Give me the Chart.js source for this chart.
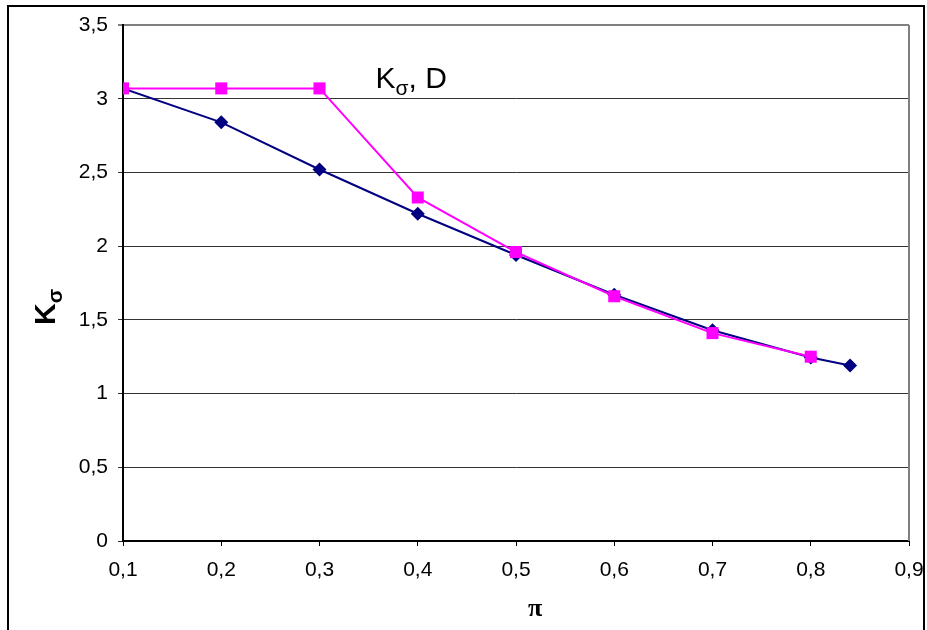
<!DOCTYPE html>
<html>
<head>
<meta charset="utf-8">
<script src="https://cdn.jsdelivr.net/npm/chart.js@4"></script>
<style>
  body { margin: 0; background: #fff; }
  canvas { display: block; }
</style>
</head>
<body>
<canvas id="myChart" width="927" height="630"></canvas>
<script>
// values
const piBlue = [0.1, 0.2, 0.3, 0.4, 0.5, 0.6, 0.7, 0.8, 0.84];
const kBlue = [3.07, 2.84, 2.52, 2.22, 1.94, 1.67, 1.43, 1.245, 1.19];
const piPink = [0.1, 0.2, 0.3, 0.4, 0.5, 0.6, 0.7, 0.8];
const kPink = [3.07, 3.07, 3.07, 2.33, 1.96, 1.66, 1.41, 1.25];
const xTicks = [0.1, 0.2, 0.3, 0.4, 0.5, 0.6, 0.7, 0.8, 0.9];
const yTicks = [0, 0.5, 1, 1.5, 2, 2.5, 3, 3.5];
const labelAt = { x: 0.357, y: 3.07 }; // where "Kσ, D" sits

const toComma = v => String(Math.round(v * 10) / 10).replace('.', ',');

const extras = {
    id: 'extras',
    beforeDraw(chart) {
        const c = chart.ctx;
        c.save();
        c.fillStyle = '#fff';
        c.fillRect(0, 0, chart.width, chart.height);
        // outer frame
        c.strokeStyle = '#000';
        c.lineWidth = 2;
        c.beginPath();
        c.moveTo(8, 630);
        c.lineTo(8, 6);
        c.lineTo(924, 6);
        c.lineTo(924, 630);
        c.stroke();
        c.restore();
    },
    afterDatasetsDraw(chart) {
        const c = chart.ctx;
        const a = chart.chartArea;
        c.save();
        // grey right edge of plot
        c.strokeStyle = '#808080';
        c.lineWidth = 2;
        c.beginPath();
        c.moveTo(a.right, a.top);
        c.lineTo(a.right, a.bottom);
        c.stroke();

        c.fillStyle = '#000';
        c.textBaseline = 'alphabetic';
        c.textAlign = 'left';

        // label inside the plot
        const lx = chart.scales.x.getPixelForValue(labelAt.x);
        const ly = chart.scales.y.getPixelForValue(labelAt.y);
        c.font = '30px "Liberation Sans", Arial, sans-serif';
        c.fillText('K', lx, ly);
        let w = c.measureText('K').width;
        c.font = '21px "Liberation Sans", Arial, sans-serif';
        c.fillText('σ', lx + w, ly + 7);
        w += c.measureText('σ').width;
        c.font = '30px "Liberation Sans", Arial, sans-serif';
        c.fillText(', D', lx + w, ly);

        // y axis title, rotated
        c.save();
        c.translate(55, 325);
        c.rotate(-Math.PI / 2);
        c.font = 'bold 30px "Liberation Sans", Arial, sans-serif';
        c.fillText('K', 0, 0);
        const kw = c.measureText('K').width;
        c.font = 'bold 21px "Liberation Sans", Arial, sans-serif';
        c.fillText('σ', kw, 7);
        c.restore();

        // x axis title
        c.font = 'bold 26px "Liberation Serif", "Times New Roman", serif';
        c.textAlign = 'center';
        c.textBaseline = 'middle';
        c.fillText('π', 535, 609);
        c.restore();
    }
};

const ctx = document.getElementById('myChart').getContext('2d');
const chart = new Chart(ctx, {
    type: 'line',
    data: {
        datasets: [{
            label: 'D',
            data: piPink.map((x, i) => ({ x: x, y: kPink[i] })),
            borderColor: '#FF00FF',
            backgroundColor: '#FF00FF',
            borderWidth: 2,
            pointStyle: 'rect',
            pointRadius: 8.5,
            pointBorderWidth: 0,
            tension: 0,
        }, {
            label: 'K',
            data: piBlue.map((x, i) => ({ x: x, y: kBlue[i] })),
            borderColor: '#000080',
            backgroundColor: '#000080',
            borderWidth: 2,
            pointStyle: 'rectRot',
            pointRadius: 7,
            pointBorderWidth: 0,
            tension: 0,
        }]
    },
    options: {
        responsive: false,
        animation: false,
        layout: { padding: { top: 25, right: 18, left: 0, bottom: 0 } },
        plugins: {
            legend: { display: false },
            tooltip: { enabled: false }
        },
        scales: {
            x: {
                type: 'linear',
                min: 0.1,
                max: 0.9,
                afterBuildTicks: s => { s.ticks = xTicks.map(v => ({ value: v })); },
                afterFit: s => { s.height = 89; s.paddingLeft = 0; s.paddingRight = 0; },
                ticks: {
                    callback: v => toComma(v),
                    color: '#000',
                    padding: 12,
                    maxRotation: 0,
                    font: { family: '"Liberation Sans", Arial, sans-serif', size: 21 }
                },
                grid: { drawOnChartArea: false, tickLength: 5, color: '#000' },
                border: { color: '#000', width: 2 }
            },
            y: {
                min: 0,
                max: 3.5,
                afterBuildTicks: s => { s.ticks = yTicks.map(v => ({ value: v })); },
                afterFit: s => { s.width = 123; },
                ticks: {
                    callback: v => toComma(v),
                    color: '#000',
                    padding: 10,
                    font: { family: '"Liberation Sans", Arial, sans-serif', size: 21 }
                },
                grid: {
                    tickLength: 5,
                    color: c => (c.tick && c.tick.value === 3.5) ? '#808080' : '#333',
                    lineWidth: c => (c.tick && c.tick.value === 3.5) ? 2 : 1
                },
                border: { color: '#000', width: 2 }
            }
        }
    },
    plugins: [extras]
});
</script>
</body>
</html>
